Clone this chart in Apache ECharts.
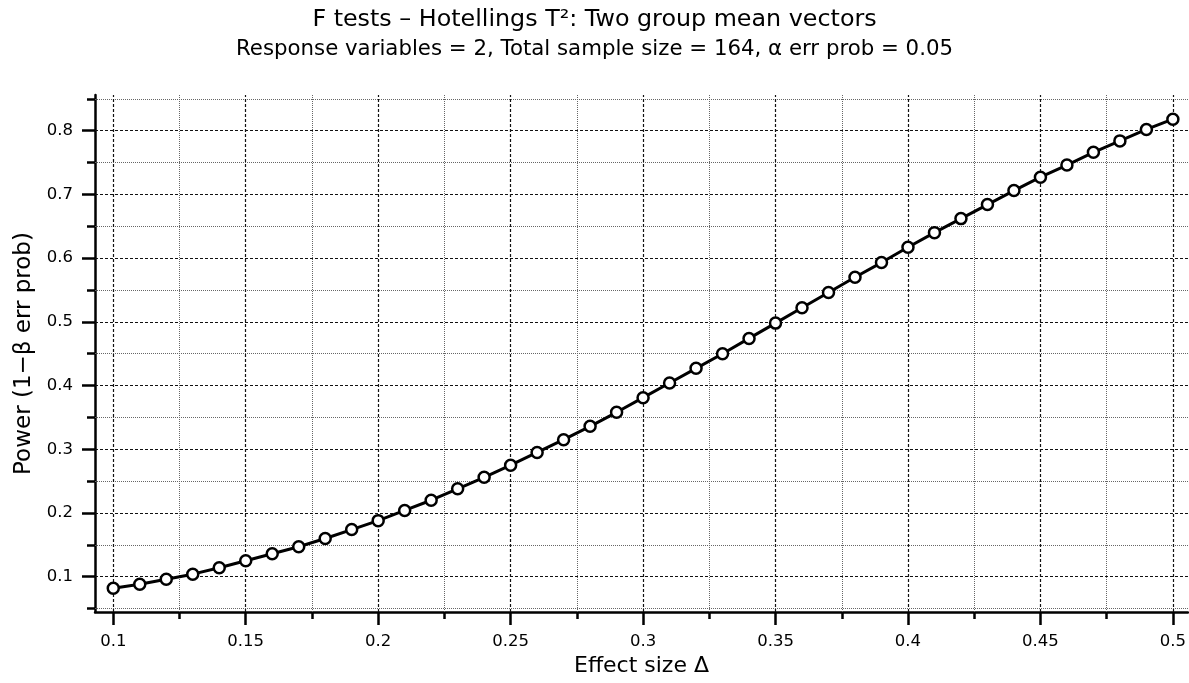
<!DOCTYPE html>
<html>
<head>
<meta charset="utf-8">
<script src="https://cdn.jsdelivr.net/npm/echarts@6/dist/echarts.min.js"></script>
<style>
html,body{margin:0;padding:0;background:#fff;}
#chart{width:1189px;height:683px;}
</style>
</head>
<body>
<div id="chart"></div>
<script>
const effectSize = [0.10,0.11,0.12,0.13,0.14,0.15,0.16,0.17,0.18,0.19,0.20,0.21,0.22,0.23,0.24,0.25,0.26,0.27,0.28,0.29,0.30,0.31,0.32,0.33,0.34,0.35,0.36,0.37,0.38,0.39,0.40,0.41,0.42,0.43,0.44,0.45,0.46,0.47,0.48,0.49,0.50];
const power = [0.082,0.088,0.096,0.104,0.114,0.125,0.136,0.147,0.160,0.174,0.188,0.204,0.220,0.238,0.256,0.275,0.295,0.315,0.336,0.358,0.381,0.404,0.427,0.450,0.474,0.498,0.522,0.546,0.570,0.593,0.617,0.640,0.662,0.684,0.706,0.727,0.746,0.766,0.784,0.802,0.818];
const xMajorTicks = [0.1,0.15,0.2,0.25,0.3,0.35,0.4,0.45,0.5];
const xMinorTicks = [0.125,0.175,0.225,0.275,0.325,0.375,0.425,0.475];
const yMajorTicks = [0.1,0.2,0.3,0.4,0.5,0.6,0.7,0.8];
const yMinorTicks = [0.05,0.15,0.25,0.35,0.45,0.55,0.65,0.75,0.85];

const FONT = 'DejaVu Sans';
const fmt = v => String(+(+v).toFixed(3));
const xMin = 0.0931, xMax = 0.5057, yMin = 0.0446, yMax = 0.856;

const majorGrid = {color:'#111', width:1.2, type:[3,2]};
const minorGrid = {color:'#666', width:1, type:[1,1]};

function gridSeries(name, arr, key, style){
  return {
    name, type:'line', data:[], z:1, silent:true,
    markLine:{silent:true, symbol:'none', precision:6, label:{show:false}, animation:false,
      lineStyle:style, emphasis:{disabled:true},
      data:arr.map(v=>({[key]:v}))}
  };
}

const chart = echarts.init(document.getElementById('chart'));
chart.setOption({
  animation:false,
  backgroundColor:'#fff',
  title:[
    {text:'F tests – Hotellings T²: Two group mean vectors', left:'center', top:3,
     padding:[5,0,5,12],
     textStyle:{fontFamily:FONT, fontSize:23.8, fontWeight:'normal', color:'#000'}},
    {text:'Response variables = 2, Total sample size = 164, α err prob = 0.05', left:'center', top:34,
     padding:[5,0,5,12],
     textStyle:{fontFamily:FONT, fontSize:21.3, fontWeight:'normal', color:'#000'}}
  ],
  grid:{left:95, right:0, top:95, bottom:71, containLabel:false},
  xAxis:[
    {type:'value', min:xMin, max:xMax, position:'bottom',
     name:'Effect size Δ', nameLocation:'middle', nameGap:42,
     nameTextStyle:{fontFamily:FONT, fontSize:22, color:'#000'},
     axisLine:{show:true, onZero:false, lineStyle:{color:'#000', width:2.5}},
     axisTick:{show:true, customValues:xMajorTicks, length:13, lineStyle:{color:'#000', width:2.5}},
     axisLabel:{customValues:xMajorTicks, formatter:fmt, margin:21, fontFamily:FONT, fontSize:16.5, color:'#000'},
     splitLine:{show:false}},
    {type:'value', min:xMin, max:xMax, position:'bottom',
     axisLine:{show:false, onZero:false},
     axisTick:{show:true, customValues:xMinorTicks, length:7, lineStyle:{color:'#000', width:2.5}},
     axisLabel:{show:false}, splitLine:{show:false}}
  ],
  yAxis:[
    {type:'value', min:yMin, max:yMax, position:'left',
     name:'Power (1−β err prob)', nameLocation:'middle', nameGap:58, nameRotate:90,
     nameTextStyle:{fontFamily:FONT, fontSize:23, color:'#000'},
     axisLine:{show:true, onZero:false, lineStyle:{color:'#000', width:2.5}},
     axisTick:{show:true, customValues:yMajorTicks, length:13, lineStyle:{color:'#000', width:2.5}},
     axisLabel:{customValues:yMajorTicks, formatter:fmt, margin:22, fontFamily:FONT, fontSize:16.5, color:'#000'},
     splitLine:{show:false}},
    {type:'value', min:yMin, max:yMax, position:'left',
     axisLine:{show:false, onZero:false},
     axisTick:{show:true, customValues:yMinorTicks, length:8, lineStyle:{color:'#000', width:2.5}},
     axisLabel:{show:false}, splitLine:{show:false}}
  ],
  series:[
    gridSeries('gxMinor', xMinorTicks, 'xAxis', minorGrid),
    gridSeries('gyMinor', yMinorTicks, 'yAxis', minorGrid),
    gridSeries('gxMajor', xMajorTicks, 'xAxis', majorGrid),
    gridSeries('gyMajor', yMajorTicks, 'yAxis', majorGrid),
    {name:'power', type:'line', z:5,
     data:effectSize.map((x,i)=>[x,power[i]]),
     symbol:'circle', symbolSize:11,
     lineStyle:{color:'#000', width:3},
     itemStyle:{color:'#fff', borderColor:'#000', borderWidth:2.5}}
  ]
});
</script>
</body>
</html>
